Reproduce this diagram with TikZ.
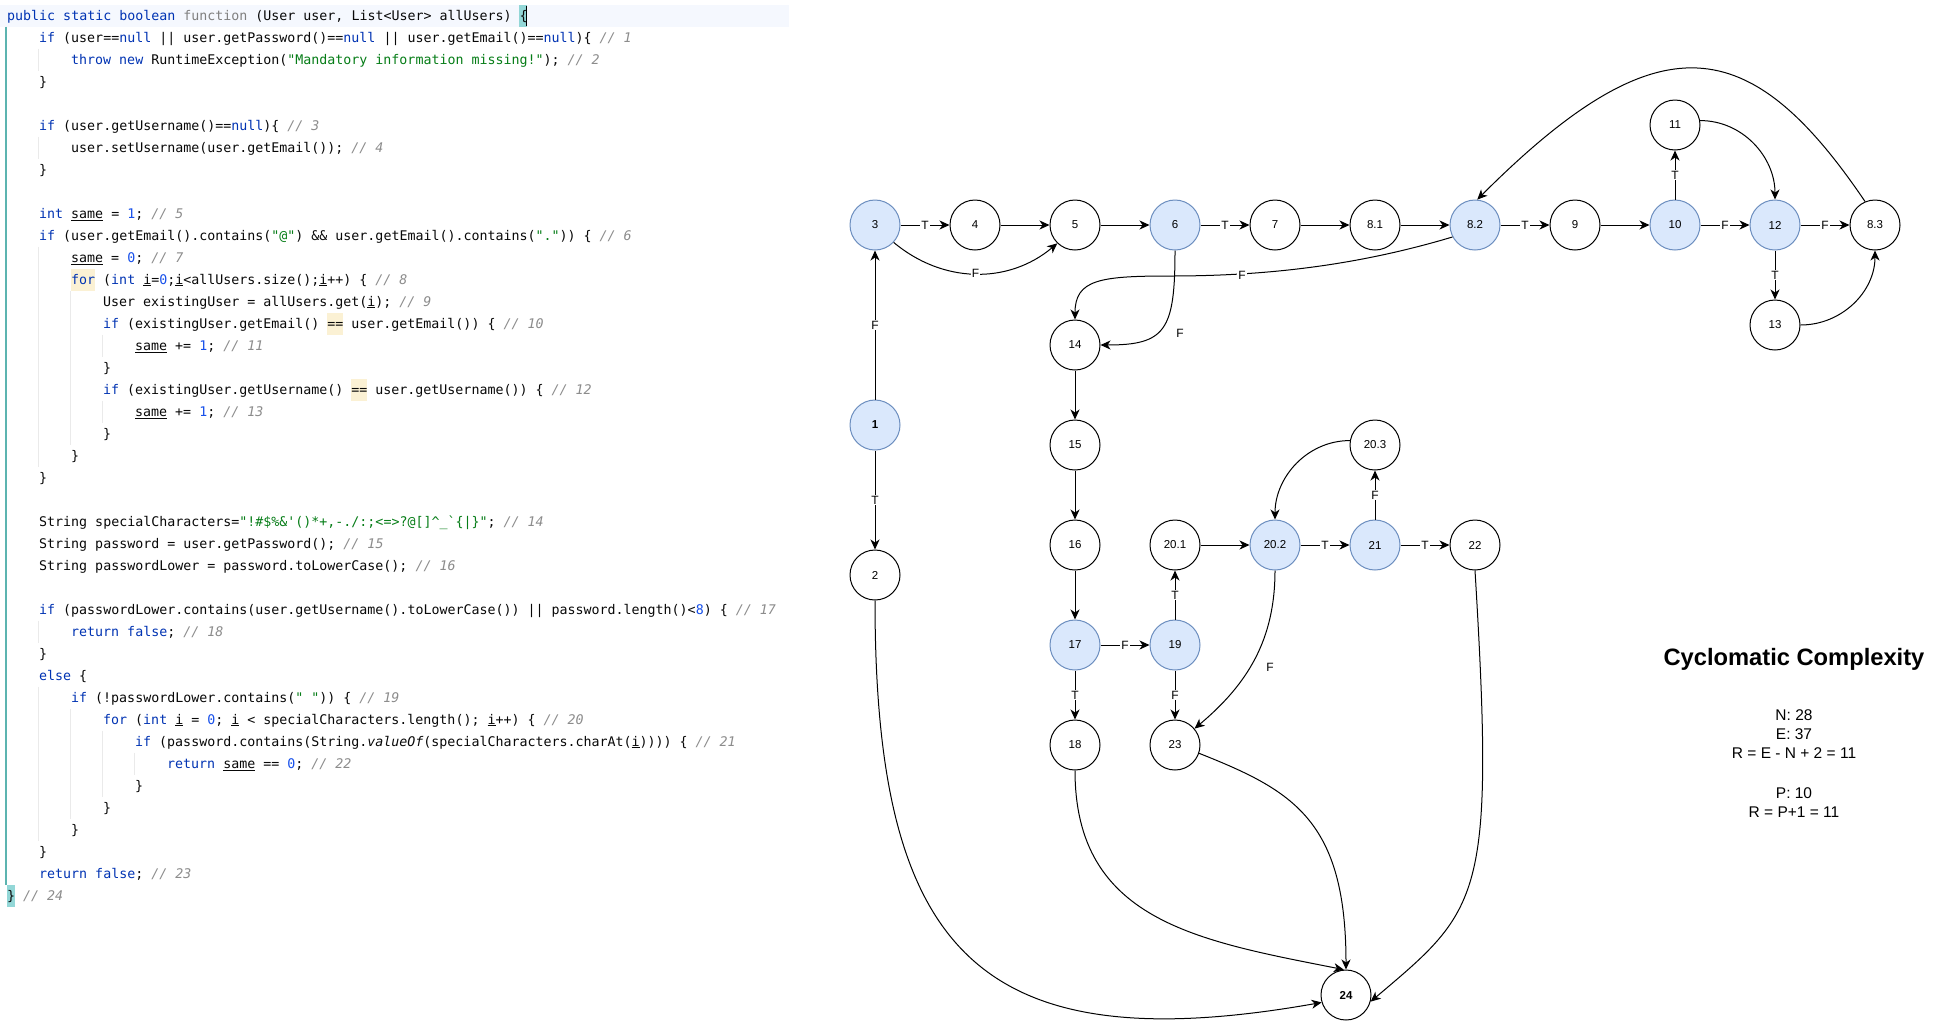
\documentclass[tikz,border=0pt]{standalone}
\usepackage{fontspec}
\setmainfont{Liberation Sans}
\setmonofont{DejaVu Sans Mono}
\usetikzlibrary{arrows.meta}
\definecolor{bfill}{HTML}{DAE8FC}
\definecolor{bdraw}{HTML}{6C8EBF}
\definecolor{txt}{HTML}{080808}
\definecolor{kwc}{HTML}{0033B3}
\definecolor{numc}{HTML}{1750EB}
\definecolor{strc}{HTML}{067D17}
\definecolor{cmc}{HTML}{8C8C8C}
\definecolor{fnc}{HTML}{808080}
\definecolor{linebg}{RGB}{245,248,254}
\definecolor{bracebg}{RGB}{147,215,215}
\definecolor{gutter}{RGB}{92,180,176}
\definecolor{guide}{RGB}{234,234,234}
\definecolor{ybg}{RGB}{251,241,212}
\newcommand\ckw[1]{\textcolor{kwc}{#1}}
\newcommand\cnu[1]{\textcolor{numc}{#1}}
\newcommand\cst[1]{\textcolor{strc}{#1}}
\newcommand\ccm[1]{\textcolor{cmc}{\itshape #1}}
\newcommand\cfn[1]{\textcolor{fnc}{#1}}
\newcommand\cul[1]{\underline{#1}}
\tikzset{
  cnode/.style={circle, draw=black, fill=white, minimum size=50pt, inner sep=0pt, line width=1pt, font=\fontsize{11.5}{13}\selectfont},
  bnode/.style={cnode, fill=bfill, draw=bdraw},
  arr/.style={-{Stealth[length=10pt,width=9pt,inset=3pt]}, line width=1pt},
  elab/.style={fill=white, inner sep=1.2pt, font=\fontsize{12}{14}\selectfont},
  flab/.style={inner sep=0pt, font=\fontsize{12}{14}\selectfont},
  code/.style={anchor=base west, inner sep=0pt, text=txt, font=\ttfamily\frenchspacing\fontsize{13.3}{16}\selectfont},
  stat/.style={anchor=base, inner sep=0pt, font=\fontsize{15.5}{19}\selectfont},
}
\begin{document}
\begin{tikzpicture}[x=1pt,y=1pt]
\useasboundingbox (0,0) rectangle (1941,-1021);
\fill[white] (0,0) rectangle (1941,-1021);
% ---------- editor decorations ----------
\fill[linebg] (0,-4.7) rectangle (789,-26.7);
\fill[bracebg] (519,-4.7) rectangle (527,-26.7);
\fill[bracebg] (7,-884.7) rectangle (15,-906.7);
\fill[ybg] (71,-268.7) rectangle (95,-290.7);
\fill[ybg] (327,-312.7) rectangle (343,-334.7);
\fill[ybg] (351,-378.7) rectangle (367,-400.7);
\draw[gutter, line width=1.4pt] (6,-26.7) -- (6,-884.7);
\begin{scope}[guide, line width=1pt]
  \draw (38,-48.7) -- (38,-70.7);
  \draw (38,-136.7) -- (38,-158.7);
  \draw (38,-246.7) -- (38,-466.7);
  \draw (38,-620.7) -- (38,-642.7);
  \draw (38,-686.7) -- (38,-840.7);
  \draw (70,-290.7) -- (70,-444.7);
  \draw (70,-708.7) -- (70,-818.7);
  \draw (102,-334.7) -- (102,-356.7);
  \draw (102,-400.7) -- (102,-422.7);
  \draw (102,-730.7) -- (102,-796.7);
  \draw (134,-752.7) -- (134,-774.7);
\end{scope}
% ---------- code ----------
\node[code] (c0) at (7,-20.2) {\ckw{public static boolean} \cfn{function} (User user, List<User> allUsers) \{};
\draw[black, line width=1.4pt] (526.3,-5.5) -- (526.3,-25.5);
\node[code] (c1) at (39,-42.2) {\ckw{if} (user==\ckw{null} || user.getPassword()==\ckw{null} || user.getEmail()==\ckw{null})\{ \ccm{// 1}};
\node[code] (c2) at (71,-64.2) {\ckw{throw new} RuntimeException(\cst{"Mandatory information missing!"}); \ccm{// 2}};
\node[code] (c3) at (39,-86.2) {\}};
\node[code] (c5) at (39,-130.2) {\ckw{if} (user.getUsername()==\ckw{null})\{ \ccm{// 3}};
\node[code] (c6) at (71,-152.2) {user.setUsername(user.getEmail()); \ccm{// 4}};
\node[code] (c7) at (39,-174.2) {\}};
\node[code] (c9) at (39,-218.2) {\ckw{int} \cul{same} = \cnu{1}; \ccm{// 5}};
\node[code] (c10) at (39,-240.2) {\ckw{if} (user.getEmail().contains(\cst{"@"}) \&\& user.getEmail().contains(\cst{"."})) \{ \ccm{// 6}};
\node[code] (c11) at (71,-262.2) {\cul{same} = \cnu{0}; \ccm{// 7}};
\node[code] (c12) at (71,-284.2) {\ckw{for} (\ckw{int} \cul{i}=\cnu{0};\cul{i}<allUsers.size();\cul{i}++) \{ \ccm{// 8}};
\node[code] (c13) at (103,-306.2) {User existingUser = allUsers.get(\cul{i}); \ccm{// 9}};
\node[code] (c14) at (103,-328.2) {\ckw{if} (existingUser.getEmail() == user.getEmail()) \{ \ccm{// 10}};
\node[code] (c15) at (135,-350.2) {\cul{same} += \cnu{1}; \ccm{// 11}};
\node[code] (c16) at (103,-372.2) {\}};
\node[code] (c17) at (103,-394.2) {\ckw{if} (existingUser.getUsername() == user.getUsername()) \{ \ccm{// 12}};
\node[code] (c18) at (135,-416.2) {\cul{same} += \cnu{1}; \ccm{// 13}};
\node[code] (c19) at (103,-438.2) {\}};
\node[code] (c20) at (71,-460.2) {\}};
\node[code] (c21) at (39,-482.2) {\}};
\node[code] (c23) at (39,-526.2) {String specialCharacters=\cst{"!\#\$\%\&\symbol{39}()*+,-./:;<=>?@[]\symbol{94}\symbol{95}\symbol{96}\{|\}"}; \ccm{// 14}};
\node[code] (c24) at (39,-548.2) {String password = user.getPassword(); \ccm{// 15}};
\node[code] (c25) at (39,-570.2) {String passwordLower = password.toLowerCase(); \ccm{// 16}};
\node[code] (c27) at (39,-614.2) {\ckw{if} (passwordLower.contains(user.getUsername().toLowerCase()) || password.length()<\cnu{8}) \{ \ccm{// 17}};
\node[code] (c28) at (71,-636.2) {\ckw{return false}; \ccm{// 18}};
\node[code] (c29) at (39,-658.2) {\}};
\node[code] (c30) at (39,-680.2) {\ckw{else} \{};
\node[code] (c31) at (71,-702.2) {\ckw{if} (!passwordLower.contains(\cst{" "})) \{ \ccm{// 19}};
\node[code] (c32) at (103,-724.2) {\ckw{for} (\ckw{int} \cul{i} = \cnu{0}; \cul{i} < specialCharacters.length(); \cul{i}++) \{ \ccm{// 20}};
\node[code] (c33) at (135,-746.2) {\ckw{if} (password.contains(String.{\itshape valueOf}(specialCharacters.charAt(\cul{i})))) \{ \ccm{// 21}};
\node[code] (c34) at (167,-768.2) {\ckw{return} \cul{same} == \cnu{0}; \ccm{// 22}};
\node[code] (c35) at (135,-790.2) {\}};
\node[code] (c36) at (103,-812.2) {\}};
\node[code] (c37) at (71,-834.2) {\}};
\node[code] (c38) at (39,-856.2) {\}};
\node[code] (c39) at (39,-878.2) {\ckw{return false}; \ccm{// 23}};
\node[code] (c40) at (7,-900.2) {\} \ccm{// 24}};
% ---------- graph nodes ----------
\node[bnode] (n3) at (875,-225) {3};
\node[cnode] (n4) at (975,-225) {4};
\node[cnode] (n5) at (1075,-225) {5};
\node[bnode] (n6) at (1175,-225) {6};
\node[cnode] (n7) at (1275,-225) {7};
\node[cnode] (n81) at (1375,-225) {8.1};
\node[bnode] (n82) at (1475,-225) {8.2};
\node[cnode] (n9) at (1575,-225) {9};
\node[bnode] (n10) at (1675,-225) {10};
\node[bnode] (n12) at (1775,-225) {12};
\node[cnode] (n83) at (1875,-225) {8.3};
\node[cnode] (n11) at (1675,-125) {11};
\node[cnode] (n13) at (1775,-325) {13};
\node[bnode] (n1) at (875,-425) {\bfseries 1};
\node[cnode] (n2) at (875,-575) {2};
\node[cnode] (n14) at (1075,-345) {14};
\node[cnode] (n15) at (1075,-445) {15};
\node[cnode] (n16) at (1075,-545) {16};
\node[bnode] (n17) at (1075,-645) {17};
\node[cnode] (n18) at (1075,-745) {18};
\node[bnode] (n19) at (1175,-645) {19};
\node[cnode] (n201) at (1175,-545) {20.1};
\node[cnode] (n23) at (1175,-745) {23};
\node[bnode] (n202) at (1275,-545) {20.2};
\node[bnode] (n21) at (1375,-545) {21};
\node[cnode] (n22) at (1475,-545) {22};
\node[cnode] (n203) at (1375,-445) {20.3};
\node[cnode] (n24) at (1346,-995) {\bfseries 24};
\coordinate (w1) at (1170,-276);
% ---------- edges ----------
\draw[arr] (n1) -- node[elab] (e1) {F} (n3);
\draw[arr] (n1) -- node[elab] (e2) {T} (n2);
\draw[arr] (n3) -- node[elab] (e3) {T} (n4);
\draw[arr] (n3.-43) to[out=-40,in=-140] node[elab] (e4) {F} (n5.-134);
\draw[arr] (n4) -- (n5);
\draw[arr] (n5) -- (n6);
\draw[arr] (n6) -- node[elab] (e7) {T} (n7);
\draw[arr] (n7) -- (n81);
\draw[arr] (n81) -- (n82);
\draw[arr] (n82) -- node[elab] (e10) {T} (n9);
\draw[arr] (n9) -- (n10);
\draw[arr] (n10) -- node[elab] (e12) {T} (n11);
\draw[arr] (n10) -- node[elab] (e13) {F} (n12);
\draw[arr] (n11.10) to[out=0,in=90] (n12.north);
\draw[arr] (n12) -- node[elab] (e15) {F} (n83);
\draw[arr] (n12) -- node[elab] (e16) {T} (n13);
\draw[arr] (n13.east) to[out=0,in=-90] (n83.south);
\draw[arr] (n83.113) .. controls +(-115,170) and +(182,182) .. (n82.85);
\draw[arr] (n82.208) .. controls +(-100,-30) and +(90,0) .. (w1) .. controls +(-70,0) and +(0,40) .. (n14.north);
\node[elab] (e19) at (1242,-275) {F};
\draw[arr] (n6.south) .. controls +(0,-80) and +(65,0) .. (n14.east);
\node[flab] (e20) at (1180,-333) {F};
\draw[arr] (n14) -- (n15);
\draw[arr] (n15) -- (n16);
\draw[arr] (n16) -- (n17);
\draw[arr] (n17) -- node[elab] (e24) {F} (n19);
\draw[arr] (n17) -- node[elab] (e25) {T} (n18);
\draw[arr] (n19) -- node[elab] (e26) {T} (n201);
\draw[arr] (n19) -- node[elab] (e27) {F} (n23);
\draw[arr] (n201) -- (n202);
\draw[arr] (n202) -- node[elab] (e29) {T} (n21);
\draw[arr] (n21) -- node[elab] (e30) {T} (n22);
\draw[arr] (n21) -- node[elab] (e31) {F} (n203);
\draw[arr] (n203.170) to[out=180,in=90] (n202.north);
\draw[arr] (n202.south) to[out=-90,in=40] (n23.40);
\node[flab] (e33) at (1270,-667) {F};
\draw[arr] (n2.south) .. controls +(0,-350) and +(-345,-61) .. (n24.197);
\draw[arr] (n18.south) .. controls +(0,-150) and +(-147,29) .. (n24.95);
\draw[arr] (n23.-19) .. controls +(93,-37) and +(0,150) .. (n24.north);
\draw[arr] (n22.south) .. controls +(20,-330) and +(110,93) .. (n24.-15);
% ---------- cyclomatic complexity ----------
\node[anchor=base, inner sep=0pt, font=\bfseries\fontsize{23.7}{28}\selectfont] (cct) at (1794,-665.5) {Cyclomatic Complexity};
\node[stat] (s1) at (1794,-720) {N: 28};
\node[stat] (s2) at (1794,-739) {E: 37};
\node[stat] (s3) at (1794,-758) {R = E - N + 2 = 11};
\node[stat] (s4) at (1794,-798) {P: 10};
\node[stat] (s5) at (1794,-817) {R = P+1 = 11};
\end{tikzpicture}
\end{document}
